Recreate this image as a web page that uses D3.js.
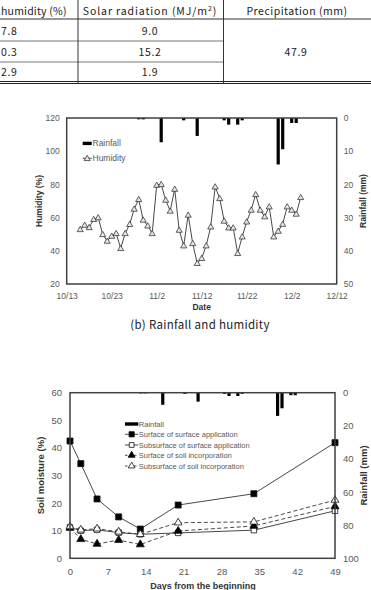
<!DOCTYPE html>
<html><head><meta charset="utf-8">
<script src="https://cdn.jsdelivr.net/npm/d3@7"></script>
<style>body{margin:0;background:#fff;overflow:hidden}svg{display:block}</style>
</head><body>
<svg id="c" width="371" height="590"></svg>
<script>
// ---------- DATA ----------
const tableHeaders = ["humidity (%)", "Solar radiation (MJ/m", "Precipitation (mm)"];
const tableHumidity = ["7.8", "0.3", "2.9"];
const tableSolar = ["9.0", "15.2", "1.9"];
const tablePrecip = "47.9";

const dateTickLabels = ["10/13", "10/23", "11/2", "11/12", "11/22", "12/2", "12/12"];
const humidityStart = "10/16";
const humidity = [52.9, 55.5, 54.1, 59.0, 60.0, 49.9, 45.9, 48.9, 50.5, 41.5,
  50.5, 56.0, 65.2, 71.0, 58.6, 55.1, 50.5, 79.6, 80.0, 70.6,
  64.0, 77.2, 52.5, 43.1, 61.6, 44.5, 32.5, 35.5, 43.1, 54.5,
  78.6, 71.6, 58.0, 53.9, 53.9, 38.5, 48.5, 57.5, 64.6, 74.0,
  64.6, 60.6, 66.6, 48.5, 51.9, 56.1, 66.6, 64.6, 62.2, 72.2];
const rainDates = ["10/29", "10/30", "11/3", "11/8", "11/11", "11/17", "11/18", "11/20", "11/21", "11/29", "11/30", "12/2", "12/3"];
const rainfall = [0.4, 0.4, 7.3, 0.7, 5.4, 0.7, 2.0, 2.0, 0.7, 14.0, 9.4, 1.5, 1.5];
const humidityTicks = [20, 40, 60, 80, 100, 120];
const rainTicksB = [0, 10, 20, 30, 40, 50];

const days = [0, 2, 5, 9, 13, 20, 34, 49];
const dayTicks = [0, 7, 14, 21, 28, 35, 42, 49];
const moistureTicks = [0, 10, 20, 30, 40, 50, 60];
const rainTicksC = [0, 20, 40, 60, 80, 100];
const seriesNames = ["Surface of surface application", "Subsurface of surface application",
  "Surface of soil incorporation", "Subsurface of soil incorporation"];
const surfSurf = [42.5, 34.3, 21.5, 15.0, 10.6, 19.3, 23.4, 41.9];
const subSurf = [11.2, 10.0, 10.3, 9.3, 8.7, 9.2, 10.2, 17.2];
const surfIncorp = [11.0, 6.9, 5.2, 6.6, 5.0, 9.9, 11.7, 18.8];
const subIncorp = [11.5, 10.3, 10.7, 9.6, 8.7, 12.9, 13.2, 21.1];

// ---------- SETUP ----------
const svg = d3.select("#c");
const FONT = "'Liberation Sans', Arial, sans-serif";
const TFONT = "'Noto Sans CJK KR', 'Liberation Sans', sans-serif";
const parse = d3.timeParse("%m/%d");

// ---------- TABLE ----------
const tbl = svg.append("g");
tbl.append("line").attr("x1", 0).attr("x2", 371).attr("y1", 19).attr("y2", 19).attr("stroke", "#333").attr("stroke-width", 1);
[41, 62].forEach(y => tbl.append("line").attr("x1", 0).attr("x2", 223.5).attr("y1", y).attr("y2", y).attr("stroke", "#555").attr("stroke-width", 0.8));
tbl.append("line").attr("x1", 0).attr("x2", 371).attr("y1", 81.5).attr("y2", 81.5).attr("stroke", "#222").attr("stroke-width", 1);
tbl.append("line").attr("x1", 0).attr("x2", 371).attr("y1", 83.5).attr("y2", 83.5).attr("stroke", "#222").attr("stroke-width", 1);
[78, 223.5].forEach(x => tbl.append("line").attr("x1", x).attr("x2", x).attr("y1", 0).attr("y2", 83).attr("stroke", "#333").attr("stroke-width", 1));
const tt = (x, y, s, anchor) => tbl.append("text").attr("x", x).attr("y", y).attr("text-anchor", anchor)
    .attr("font-family", TFONT).attr("font-size", 10.5).attr("letter-spacing", 0.6).attr("fill", "#222").text(s);
tt(1, 14.5, tableHeaders[0], "start").attr("letter-spacing", 0.2);
const h2 = tt(150, 14.5, tableHeaders[1], "middle").attr("letter-spacing", 0.9);
h2.append("tspan").attr("font-size", 7).attr("dy", -4).text("2");
h2.append("tspan").attr("dy", 4).text(")");
tt(297, 14.5, tableHeaders[2], "middle").attr("letter-spacing", 0.5);
const rowY = [35, 55.5, 76];
tableHumidity.forEach((v, i) => tt(1, rowY[i], v, "start"));
tableSolar.forEach((v, i) => tt(150, rowY[i], v, "middle"));
tt(296, 55.5, tablePrecip, "middle");

// ---------- CHART B ----------
const gb = svg.append("g");
const xB = d3.scaleTime().domain([parse(dateTickLabels[0]), parse(dateTickLabels[dateTickLabels.length - 1])]).range([66.7, 336.7]);
const yB = d3.scaleLinear().domain([20, 120]).range([284, 118]);
const yBr = d3.scaleLinear().domain([0, 50]).range([118, 284]);
const axisCol = "#404040", tickCol = "#595959";

gb.selectAll(".bar").data(rainDates).join("rect")
  .attr("x", (d) => xB(parse(d)) - 1.6).attr("width", 3.2)
  .attr("y", yBr(0)).attr("height", (d, i) => yBr(rainfall[i]) - yBr(0))
  .attr("fill", "#000");
const hStart = parse(humidityStart);
const hPts = humidity.map((v, i) => [xB(d3.timeDay.offset(hStart, i)), yB(v)]);
gb.append("path").attr("d", d3.line()(hPts)).attr("fill", "none").attr("stroke", "#333").attr("stroke-width", 0.9);
const tri = d3.symbol().type(d3.symbolTriangle);
gb.selectAll(".hm").data(hPts).join("path")
  .attr("transform", d => `translate(${d[0]},${d[1] + 0.5})`)
  .attr("d", tri.size(16)).attr("fill", "#e6e6e6").attr("stroke", "#222").attr("stroke-width", 0.7);
gb.append("rect").attr("x", 66.7).attr("y", 118).attr("width", 270).attr("height", 166)
  .attr("fill", "none").attr("stroke", axisCol).attr("stroke-width", 1.5);
const axL = gb.append("g").attr("transform", "translate(66.7,0)")
  .call(d3.axisLeft(yB).tickValues(humidityTicks).tickSize(0).tickPadding(7));
const axR = gb.append("g").attr("transform", "translate(336.7,0)")
  .call(d3.axisRight(yBr).tickValues(rainTicksB).tickSize(0).tickPadding(7));
const axB = gb.append("g").attr("transform", "translate(0,284)")
  .call(d3.axisBottom(xB).tickValues(dateTickLabels.map(parse)).tickFormat(d3.timeFormat("%-m/%-d")).tickSize(0).tickPadding(9));
[axL, axR, axB].forEach(a => {
  a.select(".domain").remove();
  a.selectAll("text").attr("font-family", FONT).attr("font-size", 8.5).attr("fill", tickCol);
});
gb.append("text").attr("transform", "translate(41.5,201) rotate(-90)").attr("text-anchor", "middle")
  .attr("font-family", FONT).attr("font-weight", "bold").attr("font-size", 8.5).attr("fill", "#333").text("Humidity (%)");
gb.append("text").attr("transform", "translate(366,201) rotate(-90)").attr("text-anchor", "middle")
  .attr("font-family", FONT).attr("font-weight", "bold").attr("font-size", 8.5).attr("fill", "#333").text("Rainfall (mm)");
gb.append("text").attr("x", 201.7).attr("y", 310).attr("text-anchor", "middle")
  .attr("font-family", FONT).attr("font-weight", "bold").attr("font-size", 8.5).attr("fill", "#333").text("Date");
gb.append("rect").attr("x", 82.7).attr("y", 141.7).attr("width", 9).attr("height", 3.4).attr("fill", "#000");
gb.append("text").attr("x", 92.5).attr("y", 146.3).attr("font-family", FONT).attr("font-size", 8.5).attr("fill", tickCol).text("Rainfall");
gb.append("line").attr("x1", 82.7).attr("x2", 91.7).attr("y1", 158.3).attr("y2", 158.3).attr("stroke", "#333").attr("stroke-width", 0.9);
gb.append("path").attr("transform", "translate(87.2,158.8)").attr("d", tri.size(16)).attr("fill", "#e6e6e6").attr("stroke", "#222").attr("stroke-width", 0.7);
gb.append("text").attr("x", 92.5).attr("y", 161.3).attr("font-family", FONT).attr("font-size", 8.5).attr("fill", tickCol).text("Humidity");
svg.append("text").attr("x", 200).attr("y", 329).attr("text-anchor", "middle")
  .attr("font-family", TFONT).attr("font-size", 11.5).attr("letter-spacing", 0.3).attr("fill", "#222").text("(b) Rainfall and humidity");

// ---------- CHART C ----------
const gc = svg.append("g");
const X0 = 70, X1 = 335, Y0 = 392.7, Y1 = 558.3;
const xC = d3.scaleLinear().domain([0, 49]).range([X0, X1]);
const xCr = d3.scaleTime().domain([parse(dateTickLabels[0]), parse(dateTickLabels[dateTickLabels.length - 1])]).range([X0, X1]);
const yC = d3.scaleLinear().domain([0, 60]).range([Y1, Y0]);
const yCr = d3.scaleLinear().domain([0, 100]).range([Y0, Y1]);

gc.selectAll(".barc").data(rainDates).join("rect")
  .attr("x", d => xCr(parse(d)) - 1.6).attr("width", 3.2)
  .attr("y", yCr(0)).attr("height", (d, i) => yCr(rainfall[i]) - yCr(0)).attr("fill", "#000");

const series = [
  {vals: surfSurf, dash: null, sym: d3.symbolSquare, fill: "#000", size: 36},
  {vals: subSurf, dash: null, sym: d3.symbolSquare, fill: "#fff", size: 30},
  {vals: surfIncorp, dash: "4,2.5", sym: d3.symbolTriangle, fill: "#000", size: 28},
  {vals: subIncorp, dash: "4,2.5", sym: d3.symbolTriangle, fill: "#fff", size: 26}
];
series.forEach(s => {
  const pts = s.vals.map((v, i) => [xC(days[i]), yC(v)]);
  gc.append("path").attr("d", d3.line()(pts)).attr("fill", "none").attr("stroke", "#333")
    .attr("stroke-width", 0.9).attr("stroke-dasharray", s.dash);
});
series.forEach(s => {
  const pts = s.vals.map((v, i) => [xC(days[i]), yC(v)]);
  gc.selectAll(null).data(pts).join("path")
    .attr("transform", d => `translate(${d[0]},${d[1]})`)
    .attr("d", d3.symbol().type(s.sym).size(s.size)())
    .attr("fill", s.fill).attr("stroke", "#111").attr("stroke-width", 0.8);
});
gc.append("rect").attr("x", X0).attr("y", Y0).attr("width", X1 - X0).attr("height", Y1 - Y0)
  .attr("fill", "none").attr("stroke", axisCol).attr("stroke-width", 1.5);
const cL = gc.append("g").attr("transform", `translate(${X0},0)`)
  .call(d3.axisLeft(yC).tickValues(moistureTicks).tickSize(0).tickPadding(8));
const cR = gc.append("g").attr("transform", `translate(${X1},0)`)
  .call(d3.axisRight(yCr).tickValues(rainTicksC).tickSize(0).tickPadding(8));
const cB = gc.append("g").attr("transform", `translate(0,${Y1})`)
  .call(d3.axisBottom(xC).tickValues(dayTicks).tickSize(0).tickPadding(10));
[cL, cR, cB].forEach(a => {
  a.select(".domain").remove();
  a.selectAll("text").attr("font-family", FONT).attr("font-size", 9.5).attr("fill", tickCol);
});
gc.append("text").attr("transform", `translate(44,${(Y0 + Y1) / 2}) rotate(-90)`).attr("text-anchor", "middle")
  .attr("font-family", FONT).attr("font-weight", "bold").attr("font-size", 9.5).attr("fill", "#333").text("Soil moisture (%)");
gc.append("text").attr("transform", `translate(367,${(Y0 + Y1) / 2}) rotate(-90)`).attr("text-anchor", "middle")
  .attr("font-family", FONT).attr("font-weight", "bold").attr("font-size", 9.5).attr("fill", "#333").text("Rainfall (mm)");
gc.append("text").attr("x", 203).attr("y", 588.5).attr("text-anchor", "middle")
  .attr("font-family", FONT).attr("font-weight", "bold").attr("font-size", 9).attr("fill", "#333").text("Days from the beginning");
const LX = 125, LW = 13.3;
gc.append("rect").attr("x", LX).attr("y", 422.3).attr("width", LW).attr("height", 3.4).attr("fill", "#000");
gc.append("text").attr("x", LX + LW + 0.5).attr("y", 426.7).attr("font-family", FONT).attr("font-size", 7.5).attr("fill", tickCol).text("Rainfall");
const legY = [434.3, 445, 455.3, 466];
series.forEach((s, i) => {
  const y = legY[i];
  gc.append("line").attr("x1", LX).attr("x2", LX + LW).attr("y1", y).attr("y2", y)
    .attr("stroke", "#333").attr("stroke-width", 0.9).attr("stroke-dasharray", s.dash ? "2.5,2" : null);
  gc.append("path").attr("transform", `translate(${LX + LW / 2},${y})`)
    .attr("d", d3.symbol().type(s.sym).size(s.size * 0.75)()).attr("fill", s.fill).attr("stroke", "#111").attr("stroke-width", 0.8);
  gc.append("text").attr("x", LX + LW + 0.5).attr("y", y + 2.6).attr("font-family", FONT).attr("font-size", 7.5)
    .attr("fill", tickCol).text(seriesNames[i]);
});
</script>
</body></html>
